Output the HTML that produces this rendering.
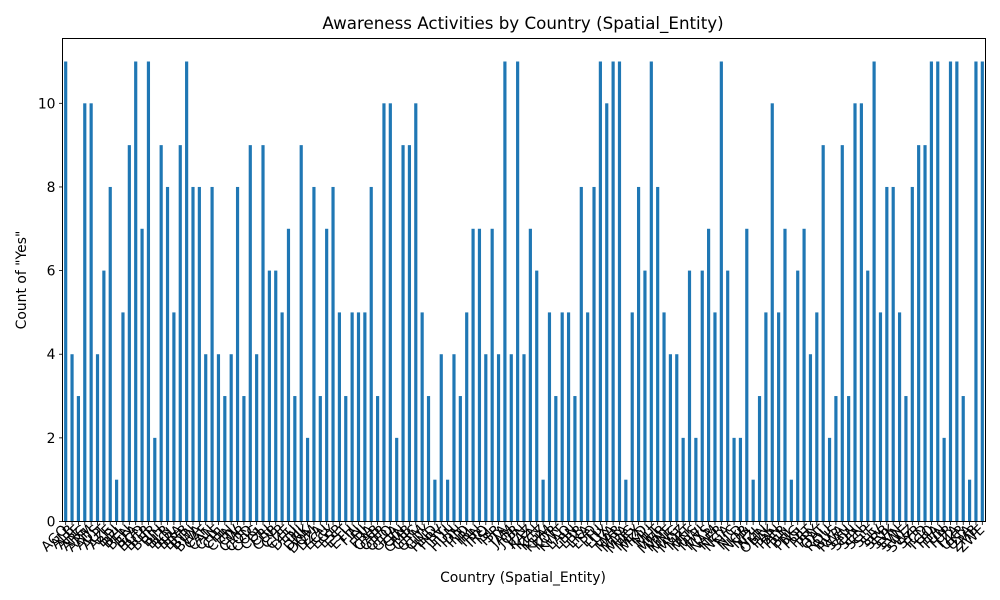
<!DOCTYPE html>
<html><head><meta charset="utf-8"><style>
body{margin:0;background:#fff;}
svg{display:block;font-family:"DejaVu Sans","Liberation Sans",sans-serif;}
</style></head><body>
<svg id="chart" width="1000" height="600" viewBox="0 0 1000 600" xmlns="http://www.w3.org/2000/svg">
<rect x="0" y="0" width="1000" height="600" fill="#fff"/>
<text x="523" y="29" text-anchor="middle" font-size="16.7">Awareness Activities by Country (Spatial_Entity)</text>
<text x="523" y="582" text-anchor="middle" font-size="13.9">Country (Spatial_Entity)</text>
<text x="0" y="0" transform="translate(26,280) rotate(-90)" text-anchor="middle" font-size="13.9">Count of "Yes"</text>
<g id="bars"></g>
<g id="yaxis"></g>
<g id="xaxis"></g>
<rect x="62.5" y="38.5" width="923" height="483" fill="none" stroke="#000" stroke-width="1"/>
</svg>
<script>
const categories = ["AGO","ALB","ARE","ARG","ARM","AUS","AUT","AZE","BDI","BEL",
"BEN","BFA","BGD","BGR","BHR","BIH","BLR","BOL","BRA","BRB",
"BTN","BWA","CAF","CAN","CHE","CHL","CHN","CIV","CMR","COD",
"COG","COL","CRI","CUB","CYP","CZE","DEU","DJI","DNK","DOM",
"DZA","ECU","EGY","ESP","EST","ETH","FIN","FJI","FRA","GAB",
"GBR","GEO","GHA","GIN","GMB","GRC","GTM","GUY","HND","HRV",
"HTI","HUN","IDN","IND","IRL","IRN","IRQ","ISL","ISR","ITA",
"JAM","JOR","JPN","KAZ","KEN","KGZ","KHM","KOR","KWT","LAO",
"LBN","LBR","LKA","LSO","LTU","LUX","LVA","MAR","MDA","MDG",
"MEX","MKD","MLI","MLT","MMR","MNE","MNG","MOZ","MRT","MUS",
"MWI","MYS","NAM","NER","NGA","NIC","NLD","NOR","NPL","NZL",
"OMN","PAK","PAN","PER","PHL","PNG","POL","PRT","PRY","QAT",
"ROU","RUS","RWA","SAU","SDN","SEN","SGP","SLE","SLV","SRB",
"SVK","SVN","SWE","SWZ","SYR","TCD","TGO","THA","TUN","TUR",
"TZA","UKR","USA","ZMB","ZWE"];
const values = [11,4,3,10,10,4,6,8,1,5,9,11,7,11,2,9,8,5,9,11,8,8,4,8,4,3,4,8,3,9,4,9,6,6,5,7,3,9,2,8,3,7,8,5,3,5,5,5,8,3,
10,10,2,9,9,10,5,3,1,4,1,4,3,5,7,7,4,7,4,11,4,11,4,7,6,1,5,3,5,5,3,8,5,8,11,10,11,11,1,5,8,6,11,8,5,4,4,2,6,
2,6,7,5,11,6,2,2,7,1,3,5,10,5,7,1,6,7,4,5,9,2,3,9,3,10,10,6,11,5,8,8,5,3,8,9,9,11,11,2,11,11,3,1,11,11];
const yTicks = [0,2,4,6,8,10];

const NS="http://www.w3.org/2000/svg";
const L=62.5,R=985.5,T=38.5,B=521.5,yMax=11.55;
const band=(R-L)/categories.length;
const xPos=i=>L+band*(i+0.5);
const yPos=v=>B-(v/yMax)*(B-T);
function mk(tag,attrs,parent){const e=document.createElementNS(NS,tag);for(const k in attrs)e.setAttribute(k,attrs[k]);parent.appendChild(e);return e;}
const gb=document.getElementById('bars'),gx=document.getElementById('xaxis'),gy=document.getElementById('yaxis');
values.forEach((v,i)=>{
  const w=band*0.5;
  const r=mk('rect',{x:xPos(i)-w/2,y:yPos(v),width:w,height:B-yPos(v),fill:'#1f77b4'},gb);
  
  
});
categories.forEach((c,i)=>{
  const x=xPos(i);
  const t=mk('line',{x1:x,x2:x,y1:B,y2:B+3.5,stroke:'#000','stroke-width':0.8},gx);
  
  
  const tx=mk('text',{x:x+3,y:B+9,'font-size':13.9,'text-anchor':'end',transform:`rotate(-45 ${x+3} ${B+9})`},gx);
  tx.textContent=c;
  
  
});
yTicks.forEach(v=>{
  const y=yPos(v);
  const t=mk('line',{x1:L-3.5,x2:L,y1:y,y2:y,stroke:'#000','stroke-width':0.8},gy);
  
  
  const tx=mk('text',{x:L-7,y:y+5,'font-size':13.9,'text-anchor':'end'},gy);
  tx.textContent=v;
  
  
});
</script>
</body></html>
